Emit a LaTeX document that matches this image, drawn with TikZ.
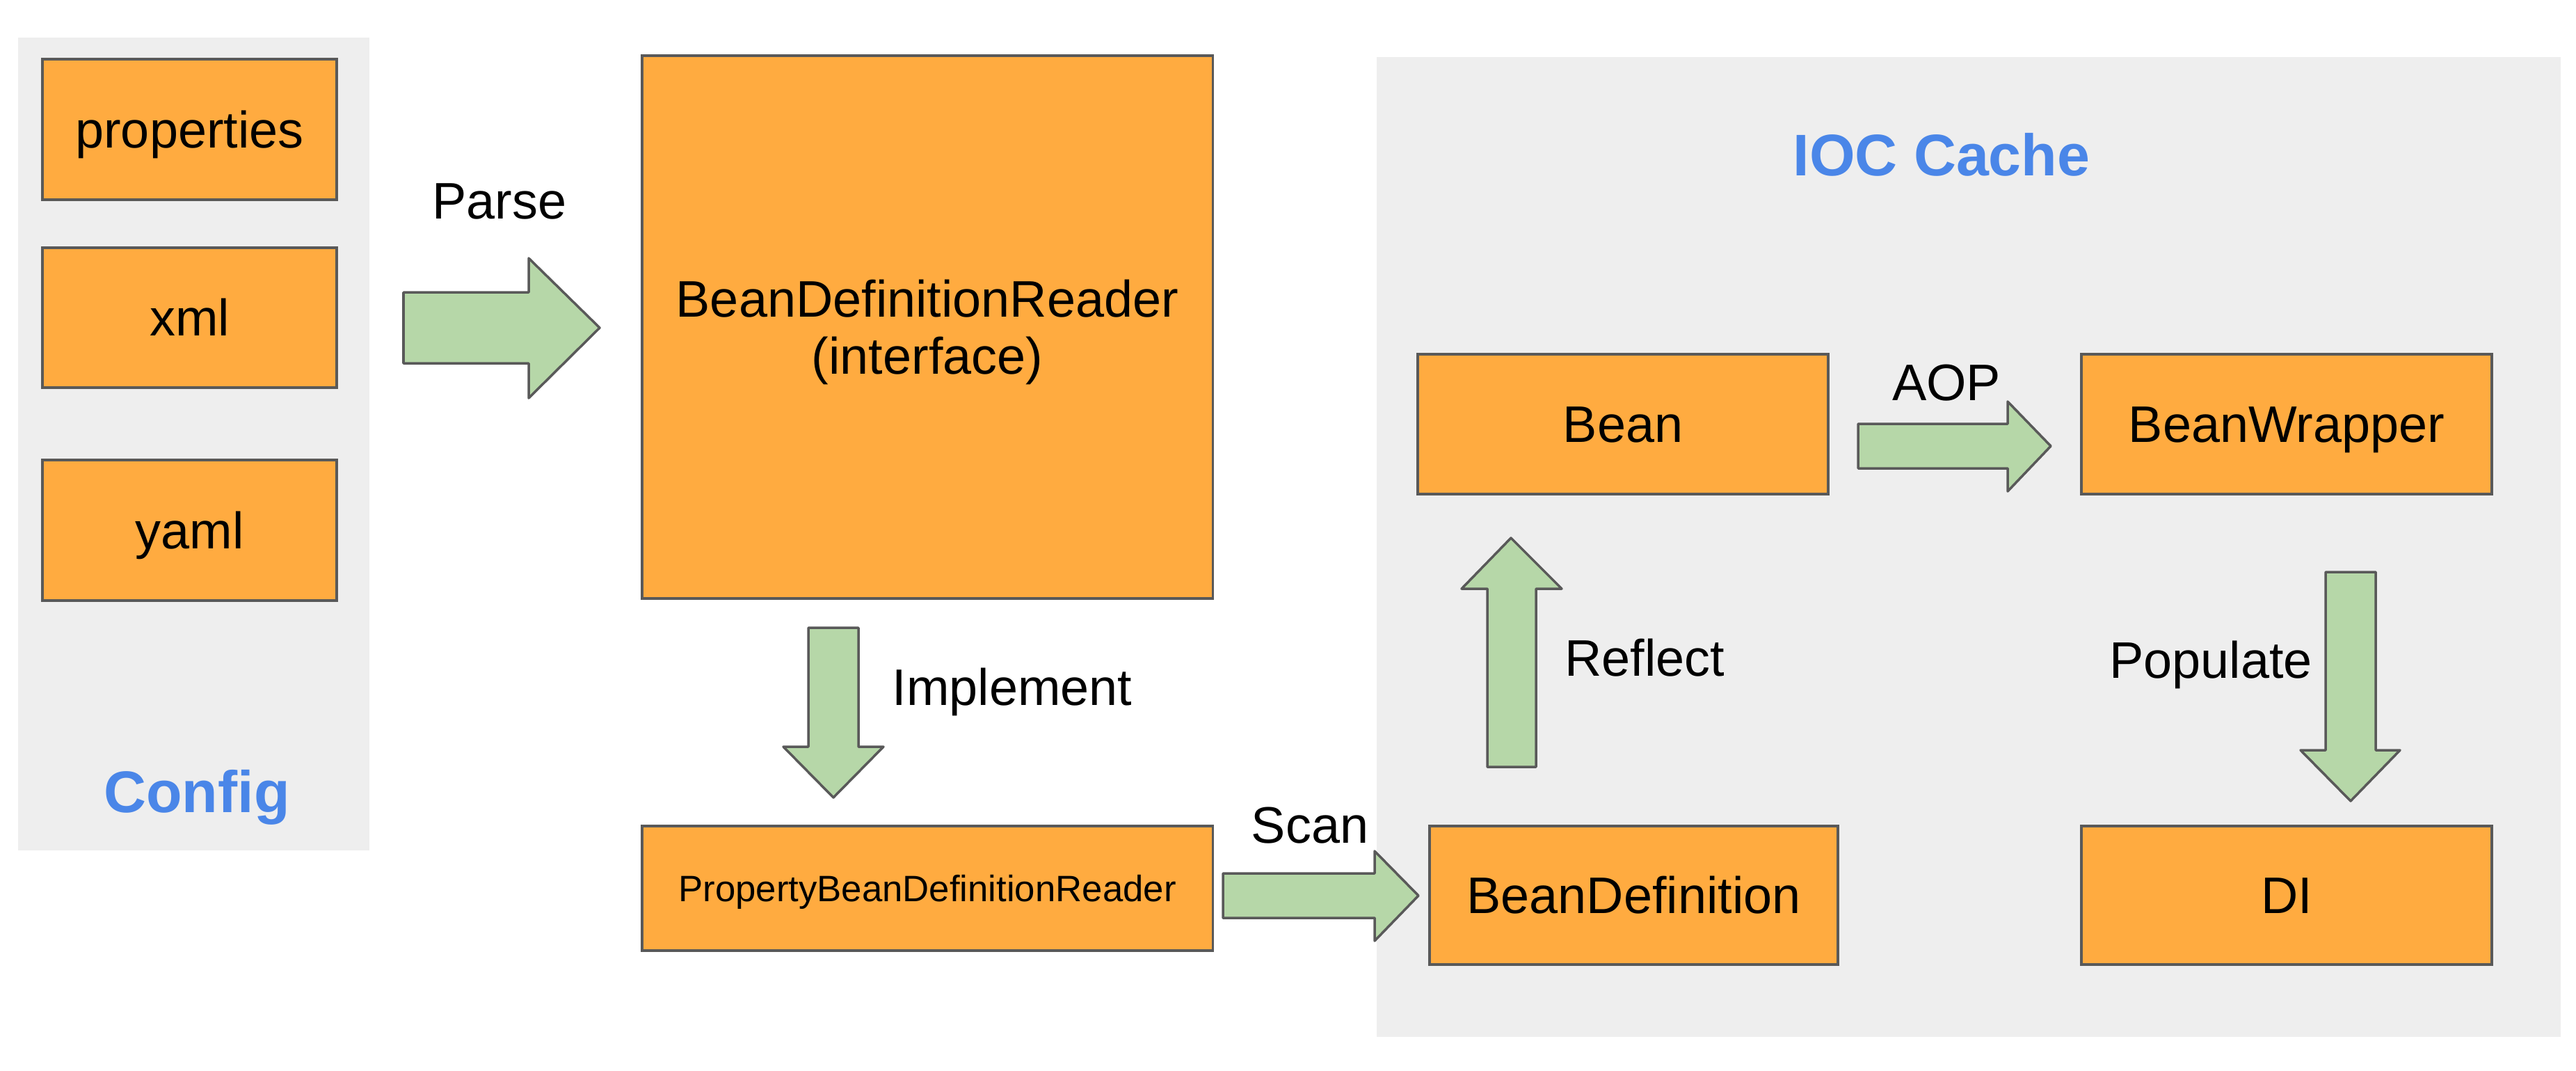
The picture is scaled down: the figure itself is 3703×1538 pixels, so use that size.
\documentclass[tikz,border=0pt]{standalone}
\usepackage{fontspec}
\setmainfont{Liberation Sans}
\definecolor{boxorange}{HTML}{FFAB40}
\definecolor{arrowgreen}{HTML}{B6D7A8}
\definecolor{panelgrey}{HTML}{EEEEEE}
\definecolor{edgegrey}{HTML}{595959}
\definecolor{titleblue}{HTML}{4A86E8}
\begin{document}
\begin{tikzpicture}[x=0.01cm,y=-0.01cm,
  boxbase/.style={draw=edgegrey, fill=boxorange, line width=1pt, inner sep=0pt,
    font=\fontsize{21}{23.3}\selectfont, align=center},
  box/.style={boxbase, text height=15pt, text depth=0pt},
  panel/.style={fill=panelgrey, draw=none},
  blockarrow/.style={draw=edgegrey, fill=arrowgreen, line width=1pt, line join=round},
  lbl/.style={font=\fontsize{21}{25}\selectfont, inner sep=0pt, anchor=base},
  paneltitle/.style={font=\fontsize{24}{28}\selectfont\bfseries, text=titleblue, inner sep=0pt, anchor=base}]
\useasboundingbox (0,0) rectangle (3703,1538);
% panels
\fill[panel] (26,54) rectangle (531,1222);
\fill[panel] (1979,82) rectangle (3681,1490);
\node[paneltitle] (configtitle) at (283,1167) {Config};
\node[paneltitle] (ioctitle) at (2791,252) {IOC Cache};
% config boxes
\node[box, minimum width=4.23cm, minimum height=2.02cm] (properties) at (272.5,186) {properties};
\node[box, minimum width=4.23cm, minimum height=2.01cm] (xml) at (272.5,456.5) {xml};
\node[box, minimum width=4.23cm, minimum height=2.02cm] (yaml) at (272.5,762) {yaml};
% readers
\node[boxbase, minimum width=8.2cm, minimum height=7.8cm, text height=42.7pt, text depth=4.5pt] (bdr) at (1333,470) {BeanDefinitionReader\\(interface)};
\node[box, minimum width=8.2cm, minimum height=1.79cm, font=\fontsize{15}{18}\selectfont, text height=10.7pt] (pbdr) at (1333,1276.5) {PropertyBeanDefinitionReader};
% IOC boxes
\node[box, minimum width=5.9cm, minimum height=2.01cm] (bean) at (2333,609.5) {Bean};
\node[box, minimum width=5.9cm, minimum height=2.01cm] (wrapper) at (3287,609.5) {BeanWrapper};
\node[box, minimum width=5.87cm, minimum height=1.99cm] (beandef) at (2348.5,1286.5) {BeanDefinition};
\node[box, minimum width=5.9cm, minimum height=1.99cm] (di) at (3287,1286.5) {DI};
% block arrows
\draw[blockarrow] (580,420) -- (760,420) -- (760,371) -- (862,471) -- (760,572) -- (760,522) -- (580,522) -- cycle;
\draw[blockarrow] (1162,902) -- (1234,902) -- (1234,1073) -- (1270,1073) -- (1198,1146) -- (1126,1073) -- (1162,1073) -- cycle;
\draw[blockarrow] (1758,1255) -- (1976,1255) -- (1976,1223) -- (2039,1287) -- (1976,1352) -- (1976,1319) -- (1758,1319) -- cycle;
\draw[blockarrow] (2671,609) -- (2886,609) -- (2886,577) -- (2948,641) -- (2886,706) -- (2886,673) -- (2671,673) -- cycle;
\draw[blockarrow] (2138,1102) -- (2138,846) -- (2101,846) -- (2172,773) -- (2245,846) -- (2208,846) -- (2208,1102) -- cycle;
\draw[blockarrow] (3343,822) -- (3415,822) -- (3415,1078) -- (3450,1078) -- (3379,1151) -- (3307,1078) -- (3343,1078) -- cycle;
% labels
\node[lbl] (parse) at (718,314) {Parse};
\node[lbl] (implement) at (1455,1013) {Implement};
\node[lbl] (scan) at (1883,1211) {Scan};
\node[lbl] (aop) at (2798,575) {AOP};
\node[lbl] (reflect) at (2364,971) {Reflect};
\node[lbl] (populate) at (3178,974) {Populate};
\end{tikzpicture}
\end{document}
